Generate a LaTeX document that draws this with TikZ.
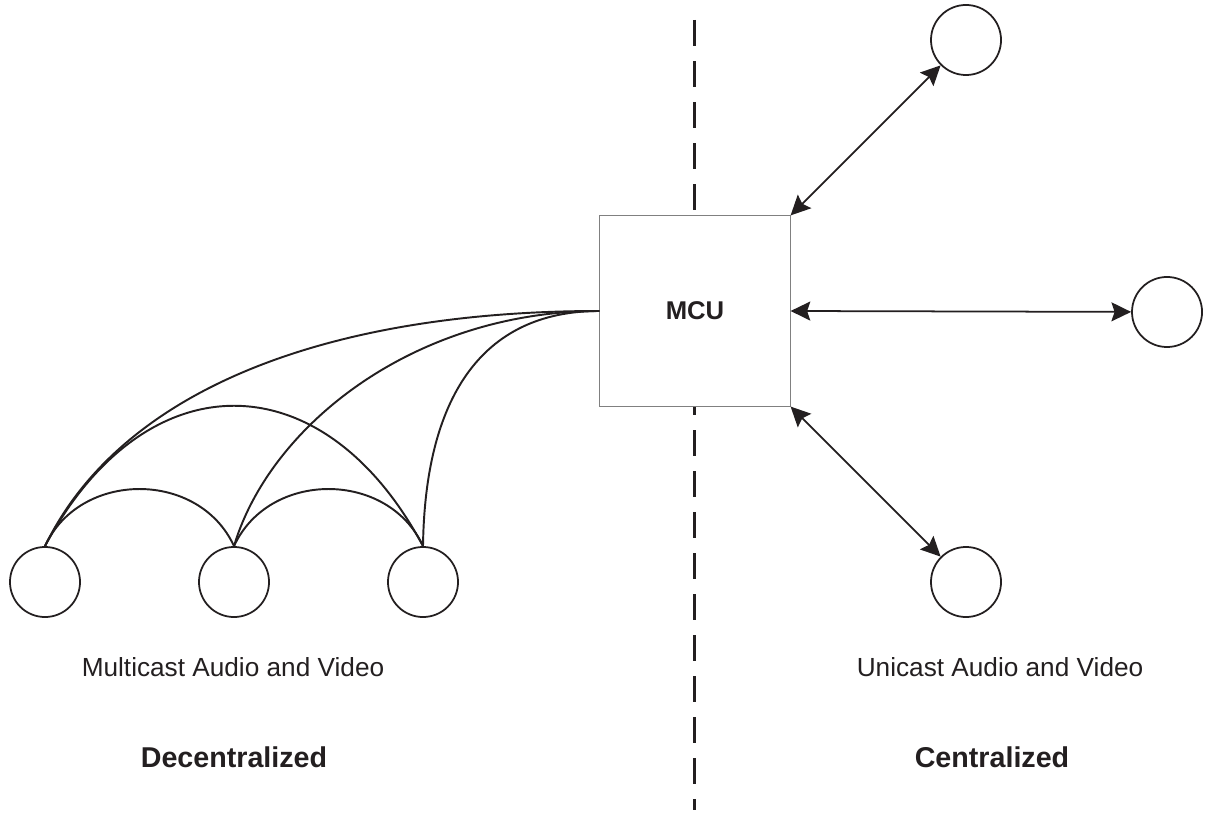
\documentclass[tikz,border=0pt]{standalone}
\usepackage{fontspec}
\setmainfont{Liberation Sans}
\usetikzlibrary{arrows.meta}
\definecolor{ink}{HTML}{231F20}
\tikzset{
  endpoint/.style={circle,draw=ink,line width=0.5pt,minimum size=0.7cm,inner sep=0pt,fill=white},
  mcubox/.style={rectangle,draw=gray,line width=0.3pt,minimum size=1.9cm,inner sep=0pt,fill=white,
    font=\fontsize{7.3}{9}\selectfont\bfseries,text=ink},
  link/.style={draw=ink,line width=0.55pt},
  biarrow/.style={draw=ink,line width=0.5pt,{Stealth[length=5.6pt,width=5.4pt,inset=0.9pt]}-{Stealth[length=5.6pt,width=5.4pt,inset=0.9pt]}},
  divider/.style={draw=ink,line width=0.85pt,dash pattern=on 0.26cm off 0.15cm},
  caption/.style={font=\fontsize{7.45}{9}\selectfont,text=ink},
  heading/.style={font=\fontsize{8.15}{10}\selectfont\bfseries,text=ink}
}
\begin{document}
\begin{tikzpicture}[x=0.01cm,y=-0.01cm]
\useasboundingbox (0,0) rectangle (1213,831);
% divider
\coordinate (dtop) at (694,20);
\coordinate (dbot) at (694,810);
\draw[divider] (dtop) -- (dbot);
% MCU
\node[mcubox] (mcu) at (695,311) {MCU};
% left endpoints
\node[endpoint] (l1) at (45,582) {};
\node[endpoint] (l2) at (234,582) {};
\node[endpoint] (l3) at (423,582) {};
% right endpoints
\node[endpoint] (r1) at (966,40) {};
\node[endpoint] (r2) at (1167,312) {};
\node[endpoint] (r3) at (966,582) {};
% multicast links
\draw[link] (l1.north) .. controls (80,470) and (199,470) .. (l2.north);
\draw[link] (l2.north) .. controls (269,470) and (388,470) .. (l3.north);
\draw[link] (l1.north) .. controls (145,359) and (323,359) .. (l3.north);
\draw[link] (l1.north) .. controls (122,388) and (330,311) .. (mcu.west);
\draw[link] (l2.north) .. controls (270,425) and (415,311) .. (mcu.west);
\draw[link] (l3.north) .. controls (425,400) and (480,311) .. (mcu.west);
% unicast links
\draw[biarrow] (mcu.north east) -- (r1);
\draw[biarrow] (mcu.east) -- (r2);
\draw[biarrow] (mcu.south east) -- (r3);
% labels
\node[caption] (mc) at (233,667) {Multicast Audio and Video};
\node[caption] (uc) at (1000,667) {Unicast Audio and Video};
\node[heading] (dec) at (234,757) {Decentralized};
\node[heading] (cen) at (992,757) {Centralized};
\end{tikzpicture}
\end{document}
